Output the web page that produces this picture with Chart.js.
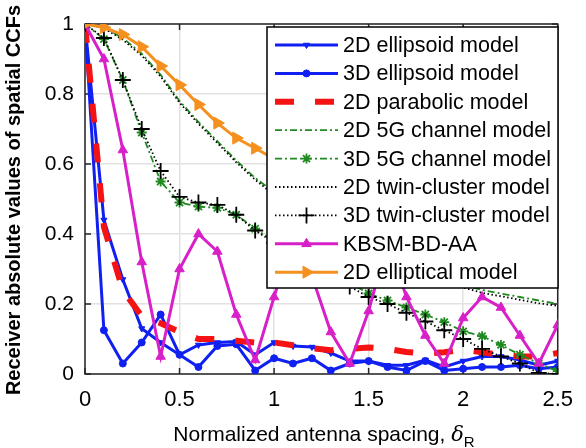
<!DOCTYPE html>
<html>
<head>
<meta charset="utf-8">
<script src="https://cdn.jsdelivr.net/npm/chart.js@4.4.0/dist/chart.umd.min.js"></script>
<style>
html, body { margin: 0; padding: 0; background: #fff; }
#c { display: block; }
</style>
</head>
<body>
<canvas id="c" width="586" height="448"></canvas>
<script>
const spacing = [0, 0.1, 0.2, 0.3, 0.4, 0.5, 0.6, 0.7, 0.8, 0.9, 1.0, 1.1, 1.2, 1.3, 1.4, 1.5, 1.6, 1.7, 1.8, 1.9, 2.0, 2.1, 2.2, 2.3, 2.4, 2.5];
const ellipsoid2D = [1.00, 0.44, 0.27, 0.13, 0.09, 0.055, 0.083, 0.09, 0.093, 0.055, 0.09, 0.08, 0.077, 0.06, 0.037, 0.037, 0.025, 0.025, 0.04, 0.02, 0.037, 0.05, 0.05, 0.04, 0.025, 0.037];
const ellipsoid3D = [1.00, 0.125, 0.03, 0.09, 0.17, 0.055, 0.02, 0.08, 0.085, 0.01, 0.045, 0.03, 0.045, 0.01, 0.03, 0.037, 0.02, 0.01, 0.037, 0.01, 0.015, 0.02, 0.02, 0.025, 0.015, 0.02];
const parabolic2D = [1.00, 0.42, 0.24, 0.165, 0.145, 0.12, 0.10, 0.10, 0.095, 0.09, 0.09, 0.082, 0.074, 0.068, 0.072, 0.076, 0.072, 0.063, 0.058, 0.062, 0.07, 0.062, 0.055, 0.05, 0.05, 0.06];
const fiveG2D = [1.00, 0.99, 0.96, 0.915, 0.855, 0.78, 0.72, 0.665, 0.61, 0.56, 0.52, 0.48, 0.445, 0.41, 0.38, 0.355, 0.33, 0.31, 0.29, 0.27, 0.255, 0.24, 0.23, 0.22, 0.21, 0.20];
const fiveG3D = [1.00, 0.957, 0.84, 0.69, 0.55, 0.49, 0.478, 0.475, 0.455, 0.415, 0.38, 0.35, 0.32, 0.29, 0.26, 0.23, 0.21, 0.19, 0.17, 0.148, 0.122, 0.108, 0.083, 0.055, 0.03, 0.008];
const twin2D = [1.00, 0.988, 0.955, 0.91, 0.85, 0.775, 0.715, 0.66, 0.605, 0.555, 0.512, 0.472, 0.437, 0.402, 0.372, 0.347, 0.322, 0.302, 0.282, 0.262, 0.247, 0.232, 0.222, 0.212, 0.202, 0.195];
const twin3D = [1.00, 0.96, 0.84, 0.70, 0.58, 0.506, 0.49, 0.483, 0.455, 0.41, 0.375, 0.34, 0.31, 0.28, 0.25, 0.22, 0.20, 0.175, 0.15, 0.125, 0.10, 0.072, 0.05, 0.03, 0.003, 0.0];
const kbsm = [1.00, 0.90, 0.64, 0.32, 0.05, 0.30, 0.40, 0.35, 0.17, 0.04, 0.22, 0.40, 0.28, 0.12, 0.03, 0.18, 0.38, 0.22, 0.11, 0.03, 0.16, 0.22, 0.19, 0.11, 0.03, 0.14];
const elliptical2D = [1.00, 0.99, 0.97, 0.935, 0.88, 0.826, 0.77, 0.717, 0.674, 0.645, 0.615, 0.585, 0.56, 0.535, 0.51, 0.485, 0.46, 0.44, 0.42, 0.40, 0.38, 0.36, 0.34, 0.325, 0.305, 0.29];
const xTicks = [0, 0.5, 1, 1.5, 2, 2.5];
const yTicks = [0, 0.2, 0.4, 0.6, 0.8, 1];

const FONT = '"Liberation Sans", Arial, Helvetica, sans-serif';
const BLUE = '#1020f0', RED = '#f41212', GREEN = '#1f8a1f', MAG = '#d820c8', ORANGE = '#f5901f';

function series(label, values, color, extra) {
    return Object.assign({
        label,
        data: spacing.map((x, i) => ({ x, y: values[i] })),
        borderColor: color,
        backgroundColor: color,
        pointBackgroundColor: color,
        pointBorderColor: color,
        borderWidth: 3,
        pointRadius: 0,
        pointBorderWidth: 1,
        tension: 0,
        fill: false
    }, extra);
}

const datasets = [
    series('2D ellipsoid model', ellipsoid2D, BLUE, { pointStyle: 'triangle', pointRotation: 180, pointRadius: 3.5 }),
    series('3D ellipsoid model', ellipsoid3D, BLUE, { pointStyle: 'circle', pointRadius: 3.5 }),
    series('2D parabolic model', parabolic2D, RED, { borderWidth: 6, borderDash: [19, 21], borderCapStyle: 'butt' }),
    series('2D 5G channel model', fiveG2D, GREEN, { borderWidth: 1.8, borderDash: [7, 3, 2, 3] }),
    series('3D 5G channel model', fiveG3D, GREEN, { borderWidth: 1.8, borderDash: [7, 3, 2, 3], pointStyle: 'star', pointRadius: 5, pointBorderWidth: 1.8 }),
    series('2D twin-cluster model', twin2D, '#000', { borderWidth: 1.8, borderDash: [1.5, 2.5] }),
    series('3D twin-cluster model', twin3D, '#000', { borderWidth: 1.8, borderDash: [1.5, 2.5], pointStyle: 'cross', pointRadius: 8, pointBorderWidth: 1.8 }),
    series('KBSM-BD-AA', kbsm, MAG, { pointStyle: 'triangle', pointRadius: 5.5 }),
    series('2D elliptical model', elliptical2D, ORANGE, { pointStyle: 'triangle', pointRotation: 90, pointRadius: 7 })
];
// later series on top, like the original plot
datasets.forEach((d, i) => d.order = 20 - i);

function marker(ctx, d, x, y) {
    if (!d.pointRadius) return;
    ctx.save();
    ctx.setLineDash([]);
    ctx.fillStyle = d.pointBackgroundColor;
    ctx.strokeStyle = d.pointBorderColor;
    ctx.lineWidth = d.pointBorderWidth;
    Chart.helpers.drawPoint(ctx, { pointStyle: d.pointStyle, radius: d.pointRadius, rotation: d.pointRotation || 0, borderWidth: d.pointBorderWidth }, x, y);
    ctx.restore();
}

const frame = {
    id: 'frame',
    beforeDatasetsDraw(chart) {
        const { ctx, chartArea: a, scales } = chart;
        ctx.save();
        ctx.strokeStyle = '#262626';
        ctx.lineWidth = 1.5;
        xTicks.forEach(v => {
            const x = scales.x.getPixelForValue(v);
            ctx.beginPath();
            ctx.moveTo(x, a.bottom); ctx.lineTo(x, a.bottom - 6);
            ctx.moveTo(x, a.top); ctx.lineTo(x, a.top + 6);
            ctx.stroke();
        });
        yTicks.forEach(v => {
            const y = scales.y.getPixelForValue(v);
            ctx.beginPath();
            ctx.moveTo(a.left, y); ctx.lineTo(a.left + 6, y);
            ctx.moveTo(a.right, y); ctx.lineTo(a.right - 6, y);
            ctx.stroke();
        });
        ctx.strokeRect(a.left, a.top, a.right - a.left, a.bottom - a.top);
        ctx.restore();
    },
    afterDatasetsDraw(chart) {
        const ctx = chart.ctx;
        const bx = 267, by = 27, bw = 291, bh = 261;
        ctx.save();
        ctx.fillStyle = '#fff';
        ctx.fillRect(bx, by, bw, bh);
        ctx.strokeStyle = '#000';
        ctx.lineWidth = 1.5;
        ctx.strokeRect(bx, by, bw, bh);
        ctx.font = '21.5px ' + FONT;
        ctx.textBaseline = 'middle';
        chart.data.datasets.forEach((d, i) => {
            const y = 45 + i * 28.4;
            ctx.save();
            ctx.strokeStyle = d.borderColor;
            ctx.lineWidth = d.borderWidth;
            ctx.lineCap = 'butt';
            ctx.setLineDash(d.borderDash || []);
            ctx.beginPath();
            ctx.moveTo(275, y); ctx.lineTo(338, y);
            ctx.stroke();
            ctx.restore();
            marker(ctx, d, 306.5, y);
            ctx.fillStyle = '#000';
            ctx.fillText(d.label, 343, y + 1);
        });
        ctx.restore();
    },
    afterDraw(chart) {
        const ctx = chart.ctx;
        ctx.save();
        ctx.fillStyle = '#000';
        // x axis title with delta_R
        const main = 'Normalized antenna spacing, ';
        ctx.font = '21px ' + FONT;
        const w1 = ctx.measureText(main).width;
        ctx.font = 'italic 21px "DejaVu Serif", serif';
        const w2 = ctx.measureText('δ').width;
        ctx.font = '15px ' + FONT;
        const w3 = ctx.measureText('R').width;
        let x = 324 - (w1 + w2 + w3) / 2;
        ctx.textBaseline = 'alphabetic';
        ctx.font = '21px ' + FONT;
        ctx.fillText(main, x, 441);
        x += w1;
        ctx.font = 'italic 21px "DejaVu Serif", serif';
        ctx.fillText('δ', x, 441);
        x += w2;
        ctx.font = '15px ' + FONT;
        ctx.fillText('R', x, 447);
        // y axis title
        ctx.translate(14, 200);
        ctx.rotate(-Math.PI / 2);
        ctx.font = 'bold 20px ' + FONT;
        ctx.textAlign = 'center';
        ctx.textBaseline = 'middle';
        ctx.fillText('Receiver absolute values of spatial CCFs', 0, 0);
        ctx.restore();
    }
};

new Chart(document.getElementById('c'), {
    type: 'line',
    data: { datasets },
    plugins: [frame],
    options: {
        responsive: false,
        animation: false,
        devicePixelRatio: 1,
        layout: { padding: { left: 0, right: 24, top: 24, bottom: 0 } },
        plugins: { legend: { display: false }, tooltip: { enabled: false } },
        scales: {
            x: {
                type: 'linear', min: 0, max: 2.5,
                afterBuildTicks: s => { s.ticks = xTicks.map(v => ({ value: v })); },
                afterFit: s => { s.height = 74; },
                grid: { color: '#e2e2e2', lineWidth: 1.5, drawTicks: false },
                border: { display: false },
                ticks: { font: { family: FONT, size: 22 }, color: '#000', padding: 13, maxRotation: 0, callback: v => String(v) }
            },
            y: {
                type: 'linear', min: 0, max: 1,
                afterBuildTicks: s => { s.ticks = yTicks.map(v => ({ value: v })); },
                afterFit: s => { s.width = 85; },
                grid: { color: '#e2e2e2', lineWidth: 1.5, drawTicks: false },
                border: { display: false },
                ticks: { font: { family: FONT, size: 21 }, color: '#000', padding: 11, callback: v => String(v) }
            }
        }
    }
});
</script>
</body>
</html>
